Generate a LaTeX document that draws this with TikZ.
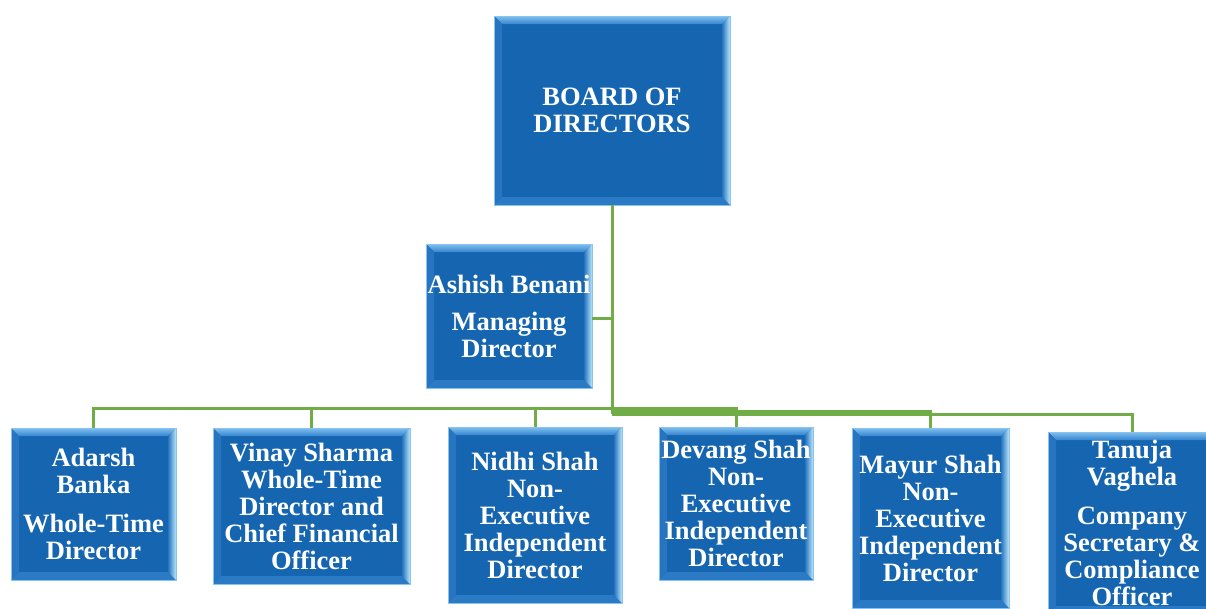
\documentclass[tikz,border=0pt]{standalone}
\usepackage{fontspec}
\setmainfont{Liberation Serif}
\definecolor{boxblue}{HTML}{1565B0}
\definecolor{bevhi}{HTML}{7FBFEF}
\definecolor{bevtop}{HTML}{3586D0}
\definecolor{bevleft}{HTML}{2774C0}
\definecolor{bevright}{HTML}{B8E6FA}
\definecolor{bevbot}{HTML}{2B7AC5}
\definecolor{edgeblue}{HTML}{8CC3EC}
\definecolor{conngreen}{HTML}{70AD47}
\newcommand\boxfont{\bfseries\fontsize{26.5}{27}\selectfont}
\tikzset{
  obox/.style={rectangle, fill=boxblue, draw=edgeblue, line width=0.8pt,
    inner sep=0pt, align=center, text=white, font=\boxfont,
    path picture={
      \coordinate (ppnw) at (path picture bounding box.north west);
      \coordinate (ppne) at (path picture bounding box.north east);
      \coordinate (ppsw) at (path picture bounding box.south west);
      \coordinate (ppse) at (path picture bounding box.south east);
      \shade[top color=bevhi, bottom color=bevtop] (ppnw) -- (ppne) -- ([shift={(-8pt,-8pt)}]ppne) -- ([shift={(8pt,-8pt)}]ppnw) -- cycle;
      \fill[bevleft] (ppnw) -- ([shift={(8pt,-8pt)}]ppnw) -- ([shift={(8pt,8pt)}]ppsw) -- (ppsw) -- cycle;
      \fill[bevbot] (ppsw) -- ([shift={(8pt,8pt)}]ppsw) -- ([shift={(-8pt,8pt)}]ppse) -- (ppse) -- cycle;
      \shade[left color=bevleft, right color=bevright] (ppne) -- (ppse) -- ([shift={(-8pt,8pt)}]ppse) -- ([shift={(-8pt,-8pt)}]ppne) -- cycle;
    }},
  conn/.style={draw=conngreen, line width=3pt}
}
\begin{document}
\begin{tikzpicture}[x=1pt,y=-1pt]
\useasboundingbox (0,0) rectangle (1206,608);
\node[obox, minimum width=236pt, minimum height=189pt] (board) at (612,110.5) {BOARD OF\\DIRECTORS};
\node[obox, minimum width=166pt, minimum height=144pt] (md) at (509,316) {Ashish Benani\\[10pt]Managing\\Director};
\node[obox, minimum width=165pt, minimum height=152pt] (adarsh) at (93.5,504) {Adarsh\\Banka\\[12pt]Whole-Time\\Director};
\node[obox, minimum width=197pt, minimum height=156pt] (vinay) at (311.5,506) {Vinay Sharma\\Whole-Time\\Director and\\Chief Financial\\Officer};
\node[obox, minimum width=174pt, minimum height=176pt] (nidhi) at (535,515) {Nidhi Shah\\Non-\\Executive\\Independent\\Director};
\node[obox, minimum width=154pt, minimum height=153pt] (devang) at (736,503.5) {Devang Shah\\Non-\\Executive\\Independent\\Director};
\node[obox, minimum width=157pt, minimum height=180pt] (mayur) at (930.5,518) {Mayur Shah\\Non-\\Executive\\Independent\\Director};
\node[obox, minimum width=168pt, minimum height=182pt] (tanuja) at (1132,523) {Tanuja\\Vaghela\\[12pt]Company\\Secretary \&\\Compliance\\Officer};
\coordinate (j1) at (612,408);
\coordinate (j2) at (612,411);
\coordinate (j3) at (612,414);
\coordinate (jm) at (612,318);
\draw[conn] (board.south) -- (j3);
\draw[conn] (md.east |- jm) -- (jm);
\draw[conn] (j1) -| (adarsh.north);
\draw[conn] (j1) -| (vinay.north);
\draw[conn] (j1) -| (nidhi.north);
\draw[conn] (j1) -| (devang.north);
\draw[conn] (j2) -| (mayur.north);
\draw[conn] (j3) -| (tanuja.north);
\end{tikzpicture}
\end{document}
